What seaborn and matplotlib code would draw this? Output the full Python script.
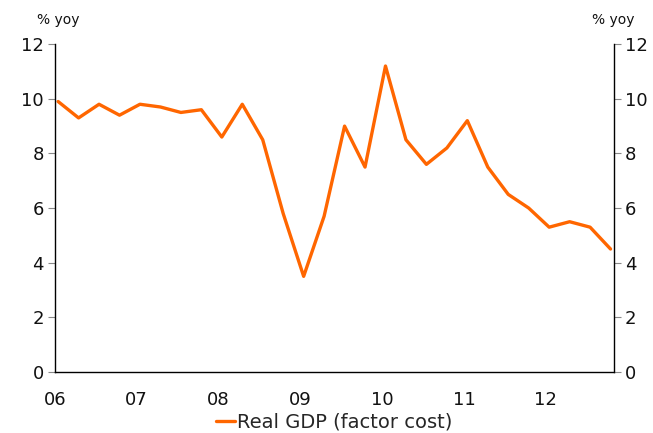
import numpy as np
import pandas as pd
import matplotlib
matplotlib.use("Agg")
import matplotlib.pyplot as plt
import seaborn as sns

# data: India real GDP growth, quarterly, % yoy
quarters = [f"{y}Q{q}" for y in range(2006, 2013) for q in range(1, 5)]
gdp = [9.9, 9.3, 9.8, 9.4, 9.8, 9.7, 9.5, 9.6,
       8.6, 9.8, 8.5, 5.8, 3.5, 5.7, 9.0, 7.5,
       11.2, 8.5, 7.6, 8.2, 9.2, 7.5, 6.5, 6.0,
       5.3, 5.5, 5.3, 4.5]
year_ticks = [2006, 2007, 2008, 2009, 2010, 2011, 2012]
year_labels = ["06", "07", "08", "09", "10", "11", "12"]
y_ticks = [0, 2, 4, 6, 8, 10, 12]

per = pd.PeriodIndex(quarters, freq="Q")
xpos = per.year + (per.quarter - 1) / 4 + 0.04
df = pd.DataFrame({"x": xpos, "gdp": gdp})

sns.set_style("white")
plt.rcParams["font.family"] = ["DejaVu Sans"]

fig = plt.figure(figsize=(6.53, 4.33), dpi=100)
ax = fig.add_axes([0.084, 0.141, 0.856, 0.757])

sns.lineplot(data=df, x="x", y="gdp", ax=ax, color="#FF6600", lw=2.4,
             label="Real GDP (factor cost)")

ax.set_xlim(2006, 2012.83)
ax.set_ylim(0, 12)
ax.set_xticks(year_ticks)
ax.set_xticklabels(year_labels)
ax.set_yticks(y_ticks)
ax.set_xlabel("")
ax.set_ylabel("")
for s in ["top", "right"]:
    ax.spines[s].set_visible(False)
for s in ["left", "bottom"]:
    ax.spines[s].set_color("black")
    ax.spines[s].set_linewidth(1)
ax.tick_params(axis="both", which="both", direction="out", length=5,
               color="#888888", labelsize=13, labelcolor="#111111", pad=3)
ax.tick_params(axis="x", pad=9)

ax2 = ax.twinx()
ax2.set_ylim(0, 12)
ax2.set_yticks(y_ticks)
for s in ["top", "left", "bottom"]:
    ax2.spines[s].set_visible(False)
ax2.spines["right"].set_color("black")
ax2.spines["right"].set_linewidth(1)
ax2.tick_params(axis="y", direction="out", length=5, color="#888888",
                labelsize=13, labelcolor="#111111", pad=3)

fig.text(0.057, 0.945, "% yoy", fontsize=10, color="#111111")
fig.text(0.907, 0.945, "% yoy", fontsize=10, color="#111111")

leg = ax.legend(loc="upper center", bbox_to_anchor=(0.5, -0.1), frameon=False,
                fontsize=14, handlelength=0.95, handletextpad=0.1,
                borderaxespad=0)

fig.savefig("out.png", dpi=100)
